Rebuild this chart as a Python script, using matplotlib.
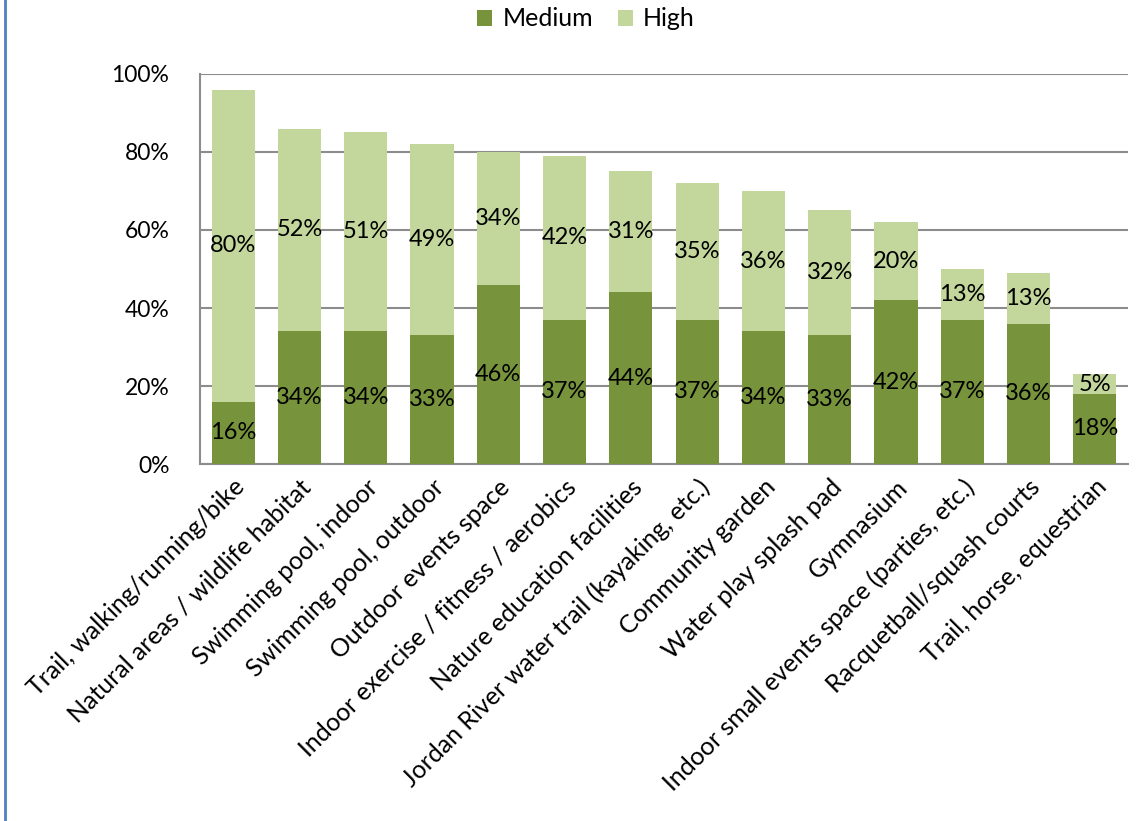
import matplotlib
matplotlib.use('Agg')
import matplotlib.pyplot as plt
from matplotlib.lines import Line2D
import numpy as np

plt.rcParams['font.family'] = ['Lato', 'DejaVu Sans']

#   categories and values (percent)
categories = ['Trail, walking/running/bike', 'Natural areas / wildlife habitat',
              'Swimming pool, indoor', 'Swimming pool, outdoor', 'Outdoor events space',
              'Indoor exercise / fitness / aerobics', 'Nature education facilities',
              'Jordan River water trail (kayaking, etc.)', 'Community garden',
              'Water play splash pad', 'Gymnasium', 'Indoor small events space (parties, etc.)',
              'Racquetball/squash courts', 'Trail, horse, equestrian']
medium = [16, 34, 34, 33, 46, 37, 44, 37, 34, 33, 42, 37, 36, 18]
high = [80, 52, 51, 49, 34, 42, 31, 35, 36, 32, 20, 13, 13, 5]

c_medium = '#77933C'
c_high = '#C3D69B'
grid_c = '#8C8C8C'

fig = plt.figure(figsize=(11.46, 8.21), dpi=100)
ax = fig.add_axes([0.1745, 0.4348, 0.8098, 0.4751])

x = np.arange(len(categories))
b1 = ax.bar(x, medium, width=0.65, color=c_medium, label='Medium', zorder=3)
b2 = ax.bar(x, high, width=0.65, bottom=medium, color=c_high, label='High', zorder=3)

#   data labels centred in each segment
for i in range(len(categories)):
    ax.text(x[i], medium[i] / 2, '%d%%' % medium[i], ha='center', va='center', fontsize=17, zorder=4)
    ax.text(x[i], medium[i] + high[i] / 2, '%d%%' % high[i], ha='center', va='center', fontsize=17, zorder=4)

ax.set_xlim(-0.5, len(categories) - 0.5)
ax.set_ylim(0, 100)
ax.set_yticks(range(0, 101, 20))
ax.set_yticklabels(['%d%%' % v for v in range(0, 101, 20)], fontsize=16.5)
ax.yaxis.grid(True, color=grid_c, linewidth=1.5, zorder=0)
ax.set_axisbelow(True)

ax.set_xticks(x)
ax.set_xticklabels(categories, rotation=45, ha='right', rotation_mode='anchor', fontsize=18)
ax.tick_params(axis='x', length=0, pad=8)
ax.tick_params(axis='y', length=0, pad=22)

for s in ['top', 'right']:
    ax.spines[s].set_visible(False)
for s in ['left', 'bottom']:
    ax.spines[s].set_color(grid_c)
    ax.spines[s].set_linewidth(1.5)

fig.legend(handles=[b1, b2], loc='center', bbox_to_anchor=(586 / 1146, 1 - 19 / 821),
           ncol=2, frameon=False, fontsize=18, handlelength=0.6, handleheight=0.6,
           handletextpad=0.4, columnspacing=1.0)

#   blue border line at the left edge
fig.add_artist(Line2D([5 / 1146, 5 / 1146], [0, 1], color='#4F81BD', linewidth=2))

fig.savefig('out.png', dpi=100)
